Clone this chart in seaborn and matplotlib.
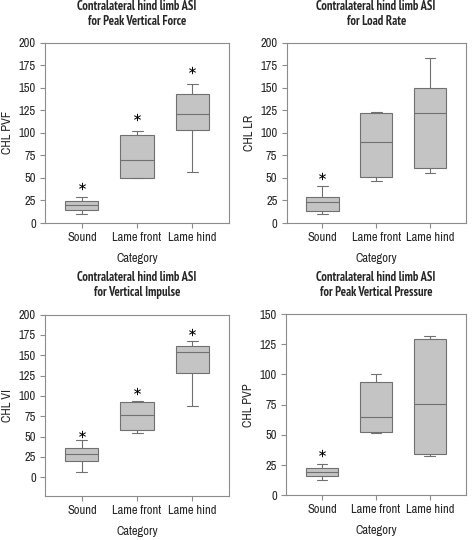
import numpy as np
import pandas as pd
import matplotlib
matplotlib.use("Agg")
import matplotlib.pyplot as plt
import seaborn as sns

# categories on the x axis
categories = ["Sound", "Lame front", "Lame hind"]

# five-number summaries: [low whisker, Q1, median, Q3, high whisker]
pvf = [[9.6, 14.4, 19.5, 24.7, 29.0],
       [49.4, 49.6, 70.0, 98.0, 101.7],
       [56.7, 103.0, 120.4, 143.0, 154.0]]
lr = [[9.6, 12.8, 23.5, 29.0, 41.0],
      [46.8, 50.5, 90.0, 122.0, 123.0],
      [56.0, 61.0, 121.5, 149.5, 182.7]]
vi = [[7.0, 20.5, 29.0, 36.0, 45.5],
      [55.0, 57.8, 77.0, 93.0, 94.0],
      [87.7, 128.0, 153.5, 161.8, 168.0]]
pvp = [[12.4, 16.0, 19.6, 22.3, 26.0],
       [52.0, 52.8, 65.0, 94.0, 100.0],
       [33.0, 34.5, 76.0, 129.5, 131.5]]

# significance markers (category, height)
pvf_stars = [("Sound", 41.6), ("Lame front", 118.0), ("Lame hind", 169.4)]
lr_stars = [("Sound", 51.6)]
vi_stars = [("Sound", 53.0), ("Lame front", 106.0), ("Lame hind", 178.0)]
pvp_stars = [("Sound", 35.0)]

titles = ["Contralateral hind limb ASI\nfor Peak Vertical Force",
          "Contralateral hind limb ASI\nfor Load Rate",
          "Contralateral hind limb ASI\nfor Vertical Impulse",
          "Contralateral hind limb ASI\nfor Peak Vertical Pressure"]
ylabels = ["CHL PVF", "CHL LR", "CHL VI", "CHL PVP"]
ylims = [(0, 200), (0, 200), (-23, 200), (0, 150)]
yticks = [np.arange(0, 201, 25), np.arange(0, 201, 25),
          np.arange(0, 201, 25), np.arange(0, 151, 25)]

sns.set_style("ticks")
plt.rcParams["font.family"] = ["Archivo Narrow", "PT Sans Narrow", "Liberation Sans", "DejaVu Sans"]

frame_col = "#8c8c8c"
box_col = "#c4c4c4"
line_col = "#707070"

fig = plt.figure(figsize=(4.72, 5.4), dpi=100)
positions = [[0.0953, 0.587, 0.390, 0.334],
             [0.607, 0.587, 0.380, 0.334],
             [0.0953, 0.0815, 0.390, 0.336],
             [0.606, 0.0825, 0.381, 0.336]]

panels = [pvf, lr, vi, pvp]
stars = [pvf_stars, lr_stars, vi_stars, pvp_stars]

for i in range(4):
    ax = fig.add_axes(positions[i])
    df = pd.DataFrame({
        "Category": np.repeat(categories, 5),
        "value": np.concatenate(panels[i]),
    })
    sns.boxplot(data=df, x="Category", y="value", order=categories, ax=ax,
                whis=(0, 100), width=0.6, color=box_col, linecolor=line_col,
                linewidth=0.8, saturation=1, showfliers=False, capwidths=0.2)
    star_df = pd.DataFrame(stars[i], columns=["Category", "value"])
    ax.scatter([categories.index(c) for c in star_df["Category"]], star_df["value"],
               marker=r"$\ast$", s=28, color="black", zorder=5, linewidths=0)
    ax.set_xlim(-0.67, 2.67)
    ax.set_ylim(*ylims[i])
    ax.set_yticks(yticks[i])
    ax.set_title(titles[i], fontsize=9, fontweight="bold", pad=13, linespacing=1.2,
                 family=["PT Sans Narrow", "Archivo Narrow", "DejaVu Sans"])
    ax.set_ylabel(ylabels[i], fontsize=9, labelpad=4)
    ax.set_xlabel("Category", fontsize=9, labelpad=7)
    ax.tick_params(labelsize=9, length=3.5, width=0.8, color=frame_col, pad=3)
    for sp in ax.spines.values():
        sp.set_visible(True)
        sp.set_color(frame_col)
        sp.set_linewidth(0.8)

fig.savefig("out.png", dpi=100)
